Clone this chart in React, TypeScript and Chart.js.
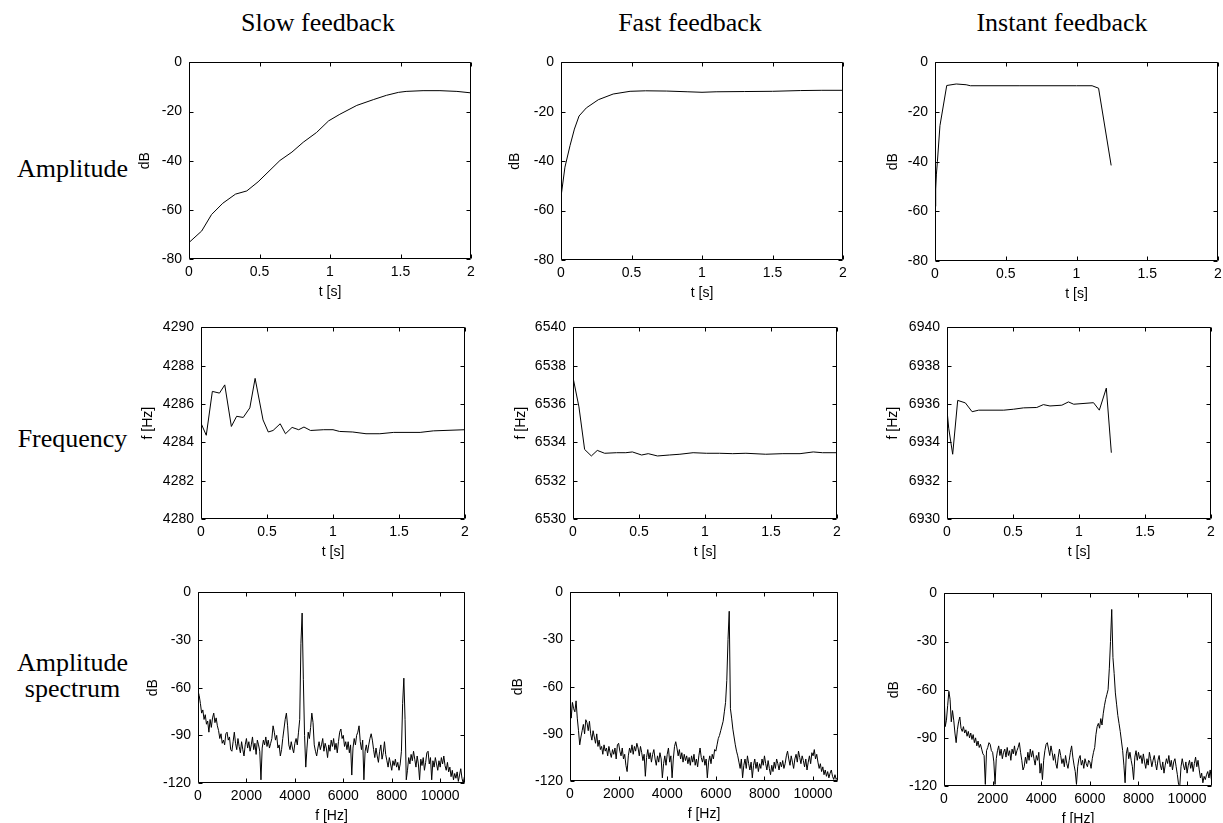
import React, { useEffect, useRef } from 'react';
import { Chart, registerables } from 'chart.js';

Chart.register(...registerables);

// ---------- text ----------
const COLUMN_TITLES = ['Slow feedback', 'Fast feedback', 'Instant feedback'];
const ROW_LABELS = [['Amplitude'], ['Frequency'], ['Amplitude', 'spectrum']];

// ---------- row 1: amplitude envelope (dB) vs time (s) ----------
const AMP_SLOW_T = [0, 0.09, 0.16, 0.24, 0.33, 0.41, 0.49, 0.645, 0.73, 0.81, 0.905, 0.99, 1.07, 1.19, 1.31, 1.4, 1.485, 1.54, 1.66, 1.78, 1.9, 2.0];
const AMP_SLOW_DB = [-73.3, -68.6, -61.9, -57.3, -53.6, -52.3, -48.6, -39.9, -36.5, -32.5, -28.5, -23.8, -21.1, -17.5, -15.1, -13.4, -12.2, -11.8, -11.5, -11.5, -11.8, -12.4];

const AMP_FAST_T = [0, 0.028, 0.064, 0.095, 0.128, 0.18, 0.265, 0.37, 0.49, 0.6, 0.75, 0.9, 1.0, 1.1, 1.3, 1.5, 1.7, 1.85, 2.0];
const AMP_FAST_DB = [-54.4, -42.4, -33.7, -27, -21.7, -18.4, -15.1, -12.8, -11.7, -11.5, -11.6, -11.9, -12.1, -11.9, -11.8, -11.7, -11.4, -11.3, -11.3];

const AMP_INST_T = [0, 0.005, 0.01, 0.017, 0.035, 0.083, 0.15, 0.22, 0.25, 0.6, 1.0, 1.11, 1.156, 1.245];
const AMP_INST_DB = [-58, -51, -45, -40, -25.5, -9.3, -8.7, -9.0, -9.4, -9.4, -9.4, -9.4, -10.4, -41.5];

// ---------- row 2: instantaneous frequency (Hz) vs time (s) ----------
const FREQ_SLOW_T = [0, 0.04, 0.086, 0.14, 0.18, 0.23, 0.27, 0.32, 0.37, 0.41, 0.47, 0.51, 0.546, 0.6, 0.64, 0.69, 0.74, 0.78, 0.83, 0.93, 1.0, 1.05, 1.15, 1.25, 1.355, 1.46, 1.66, 1.76, 2.0];
const FREQ_SLOW_HZ = [4285.0, 4284.37, 4286.66, 4286.57, 4287.0, 4284.83, 4285.36, 4285.3, 4285.8, 4287.34, 4285.17, 4284.54, 4284.62, 4284.97, 4284.45, 4284.78, 4284.66, 4284.8, 4284.62, 4284.66, 4284.66, 4284.57, 4284.54, 4284.45, 4284.45, 4284.52, 4284.52, 4284.6, 4284.66];

const FREQ_FAST_T = [0, 0.045, 0.088, 0.139, 0.184, 0.24, 0.33, 0.4, 0.45, 0.52, 0.57, 0.64, 0.73, 0.81, 0.91, 1.01, 1.11, 1.21, 1.31, 1.46, 1.59, 1.72, 1.82, 1.89, 2.0];
const FREQ_FAST_HZ = [6537.39, 6535.85, 6533.63, 6533.29, 6533.58, 6533.43, 6533.46, 6533.46, 6533.5, 6533.34, 6533.41, 6533.29, 6533.34, 6533.38, 6533.46, 6533.43, 6533.43, 6533.41, 6533.43, 6533.38, 6533.41, 6533.41, 6533.5, 6533.46, 6533.46];

const FREQ_INST_T = [0, 0.013, 0.043, 0.081, 0.139, 0.19, 0.24, 0.43, 0.505, 0.58, 0.68, 0.73, 0.78, 0.87, 0.92, 0.96, 1.11, 1.154, 1.207, 1.245];
const FREQ_INST_HZ = [6935.68, 6934.74, 6933.38, 6936.19, 6936.06, 6935.6, 6935.68, 6935.68, 6935.73, 6935.8, 6935.82, 6935.97, 6935.9, 6935.94, 6936.11, 6935.99, 6936.07, 6935.68, 6936.83, 6933.46];

// ---------- row 3: amplitude spectra (dB), one value per 50 Hz bin, 0..11000 Hz ----------
const SPEC_BIN_HZ = 50;
const SPEC_SLOW_DB = [
  -62, -65, -70, -76, -74, -80, -77, -83, -81, -88,
  -80, -85, -79, -76, -82, -79, -84, -87, -92, -89,
  -95, -93, -96, -89, -88, -93, -91, -99, -100, -94,
  -88, -95, -99, -92, -97, -101, -94, -99, -103, -96,
  -92, -98, -94, -100, -96, -91, -99, -95, -102, -93,
  -96, -100, -118, -98, -93, -96, -91, -97, -93, -98,
  -95, -92, -84, -88, -93, -90, -98, -96, -103, -99,
  -92, -86, -80, -76, -84, -96, -99, -94, -98, -101,
  -95, -92, -96, -88, -80, -32, -13, -55, -90, -110,
  -98, -88, -92, -85, -76, -82, -96, -100, -103, -98,
  -94, -99, -96, -92, -100, -95, -98, -104, -96, -100,
  -93, -97, -92, -99, -95, -101, -94, -88, -86, -92,
  -90, -97, -94, -99, -94, -101, -96, -115, -98, -92,
  -96, -90, -88, -84, -94, -99, -93, -118, -100, -96,
  -101, -96, -92, -89, -93, -99, -104, -98, -103, -107,
  -100, -96, -105, -101, -94, -102, -106, -110, -104, -108,
  -112, -106, -109, -105, -110, -107, -112, -108, -100, -70,
  -54, -80, -118, -112, -104, -108, -102, -106, -100, -105,
  -110, -103, -108, -118, -105, -109, -104, -112, -107, -101,
  -100, -108, -104, -118, -106, -110, -104, -108, -112, -106,
  -110, -104, -108, -103, -109, -112, -107, -113, -110, -116,
  -112, -118, -114, -117, -113, -119, -115, -111, -117, -120,
  -116,
];
const SPEC_FAST_DB = [
  -62, -80, -70, -74, -76, -69, -80, -88, -97, -92,
  -88, -84, -90, -81, -83, -88, -82, -90, -94, -88,
  -92, -96, -90, -98, -94, -100, -98, -103, -97, -101,
  -99, -104, -98, -102, -105, -100, -103, -99, -106, -97,
  -96, -101, -104, -99, -106, -103, -110, -114, -104, -99,
  -102, -97, -103, -98, -101, -96, -99, -104, -98, -102,
  -107, -103, -117, -105, -100, -106, -102, -108, -103, -100,
  -106, -110, -104, -108, -102, -106, -118, -109, -104, -110,
  -103, -99, -108, -104, -118, -106, -98, -95, -99, -104,
  -100, -106, -102, -108, -103, -107, -104, -109, -105, -110,
  -104, -108, -103, -110, -106, -111, -104, -99, -105, -108,
  -104, -110, -106, -118, -108, -104, -109, -103, -106, -100,
  -101, -97, -93, -91, -88, -85, -82, -76, -70, -56,
  -30, -12, -74, -80, -87, -92, -97, -101, -104, -108,
  -112, -106, -118, -110, -106, -112, -104, -109, -113, -108,
  -118, -110, -106, -112, -108, -114, -109, -112, -106, -110,
  -104, -109, -113, -107, -112, -116, -110, -114, -108, -112,
  -106, -109, -113, -108, -111, -107, -112, -109, -104, -101,
  -106, -110, -104, -108, -112, -106, -103, -108, -101, -105,
  -109, -104, -107, -111, -106, -113, -108, -104, -109, -102,
  -104, -100, -106, -103, -108, -112, -109, -114, -111, -116,
  -113, -117, -114, -118, -115, -113, -117, -119, -116, -119,
  -118,
];
const SPEC_INST_DB = [
  -60, -83, -79, -70, -61, -66, -80, -73, -79, -87,
  -93, -85, -80, -77, -84, -86, -83, -87, -85, -89,
  -86, -90, -87, -91, -88, -93, -90, -95, -92, -96,
  -94, -97, -100, -101, -119, -98, -96, -93, -94, -98,
  -99, -105, -119, -103, -98, -95, -101, -97, -103, -99,
  -97, -102, -96, -101, -98, -104, -97, -100, -95, -101,
  -98, -96, -93, -99, -104, -110, -108, -102, -106, -99,
  -104, -97, -102, -98, -103, -107, -101, -104, -99, -112,
  -106, -116, -104, -98, -94, -93, -97, -101, -95, -99,
  -104, -100, -106, -109, -102, -97, -101, -106, -103, -108,
  -101, -106, -109, -104, -99, -95, -102, -107, -111, -119,
  -108, -103, -101, -107, -104, -109, -103, -106, -108, -104,
  -105, -109, -103, -99, -96, -88, -83, -81, -84, -78,
  -82, -75, -70, -66, -63, -60, -47, -30, -10, -40,
  -50, -62, -69, -76, -81, -86, -92, -98, -107, -118,
  -100, -96, -103, -99, -104, -108, -116, -102, -98, -104,
  -99, -103, -101, -106, -100, -105, -109, -103, -107, -99,
  -103, -108, -104, -101, -106, -110, -104, -101, -107, -110,
  -105, -112, -107, -103, -106, -101, -108, -104, -110, -105,
  -103, -108, -113, -119, -120, -108, -103, -107, -110, -105,
  -112, -107, -104, -109, -105, -111, -106, -102, -108, -104,
  -110, -115, -112, -118, -114, -116, -113, -111, -115, -110,
  -116,
];

// ---------- tick values ----------
const TIME_TICKS = [0, 0.5, 1, 1.5, 2];
const AMP_TICKS = [-80, -60, -40, -20, 0];
const FREQ_SLOW_TICKS = [4280, 4282, 4284, 4286, 4288, 4290];
const FREQ_FAST_TICKS = [6530, 6532, 6534, 6536, 6538, 6540];
const FREQ_INST_TICKS = [6930, 6932, 6934, 6936, 6938, 6940];
const SPEC_F_TICKS = [0, 2000, 4000, 6000, 8000, 10000];
const SPEC_DB_TICKS = [-120, -90, -60, -30, 0];

// ---------- axes ----------
interface AxisDef { min: number; max: number; ticks: number[]; title: string }
const TIME_AXIS: AxisDef = { min: 0, max: 2, ticks: TIME_TICKS, title: 't [s]' };
const AMP_AXIS: AxisDef = { min: -80, max: 0, ticks: AMP_TICKS, title: 'dB' };
const FREQ_SLOW_AXIS: AxisDef = { min: 4280, max: 4290, ticks: FREQ_SLOW_TICKS, title: 'f [Hz]' };
const FREQ_FAST_AXIS: AxisDef = { min: 6530, max: 6540, ticks: FREQ_FAST_TICKS, title: 'f [Hz]' };
const FREQ_INST_AXIS: AxisDef = { min: 6930, max: 6940, ticks: FREQ_INST_TICKS, title: 'f [Hz]' };
const SPEC_X_AXIS: AxisDef = { min: 0, max: 11025, ticks: SPEC_F_TICKS, title: 'f [Hz]' };
const SPEC_Y_AXIS: AxisDef = { min: -120, max: 0, ticks: SPEC_DB_TICKS, title: 'dB' };

type Pt = { x: number; y: number };
const zip = (xs: number[], ys: number[]): Pt[] => xs.map((x, i) => ({ x, y: ys[i] }));
const bins = (ys: number[]): Pt[] => ys.map((y, i) => ({ x: i * SPEC_BIN_HZ, y }));

interface Rect { x0: number; y0: number; x1: number; y1: number; td: number }
interface PanelDef { points: Pt[]; xAxis: AxisDef; yAxis: AxisDef; rect: Rect }

const PANELS: PanelDef[] = [
  { points: zip(AMP_SLOW_T, AMP_SLOW_DB), xAxis: TIME_AXIS, yAxis: AMP_AXIS, rect: { x0: 189, y0: 59, x1: 471, y1: 259, td: 44 } },
  { points: zip(AMP_FAST_T, AMP_FAST_DB), xAxis: TIME_AXIS, yAxis: AMP_AXIS, rect: { x0: 561, y0: 59, x1: 843, y1: 260, td: 46 } },
  { points: zip(AMP_INST_T, AMP_INST_DB), xAxis: TIME_AXIS, yAxis: AMP_AXIS, rect: { x0: 935, y0: 59, x1: 1218, y1: 261, td: 42 } },
  { points: zip(FREQ_SLOW_T, FREQ_SLOW_HZ), xAxis: TIME_AXIS, yAxis: FREQ_SLOW_AXIS, rect: { x0: 201, y0: 324, x1: 465, y1: 519, td: 53 } },
  { points: zip(FREQ_FAST_T, FREQ_FAST_HZ), xAxis: TIME_AXIS, yAxis: FREQ_FAST_AXIS, rect: { x0: 573, y0: 324, x1: 837, y1: 519, td: 52 } },
  { points: zip(FREQ_INST_T, FREQ_INST_HZ), xAxis: TIME_AXIS, yAxis: FREQ_INST_AXIS, rect: { x0: 947, y0: 324, x1: 1211, y1: 519, td: 54 } },
  { points: bins(SPEC_SLOW_DB), xAxis: SPEC_X_AXIS, yAxis: SPEC_Y_AXIS, rect: { x0: 198, y0: 589, x1: 465, y1: 783, td: 45 } },
  { points: bins(SPEC_FAST_DB), xAxis: SPEC_X_AXIS, yAxis: SPEC_Y_AXIS, rect: { x0: 570, y0: 589, x1: 838, y1: 781, td: 52 } },
  { points: bins(SPEC_INST_DB), xAxis: SPEC_X_AXIS, yAxis: SPEC_Y_AXIS, rect: { x0: 944, y0: 590, x1: 1212, y1: 786, td: 50 } },
];

const TITLE_CENTERS = [318, 690, 1062];
const ROW_LABEL_TOPS = [[156], [426], [650, 676]];

const SANS = "'Liberation Sans', Arial, Helvetica, sans-serif";
const SERIF = "'Liberation Serif', 'Times New Roman', Times, serif";
const TICK_FONT = { family: SANS, size: 14 };

const fmt = (v: number) => String(Math.round(v * 1000) / 1000);

const framePlugin = {
  id: 'matlabFrame',
  afterDraw(chart: any) {
    const { ctx, chartArea: a, scales } = chart;
    const L = Math.round(a.left) + 0.5;
    const R = Math.round(a.right) - 0.5;
    const T = Math.round(a.top) + 0.5;
    const B = Math.round(a.bottom) - 0.5;
    const tick = 4;
    ctx.save();
    ctx.strokeStyle = '#000';
    ctx.lineWidth = 1;
    ctx.beginPath();
    ctx.rect(L, T, R - L, B - T);
    for (const t of scales.x.ticks) {
      const px = Math.round(scales.x.getPixelForValue(t.value)) + 0.5;
      ctx.moveTo(px, B); ctx.lineTo(px, B - tick);
      ctx.moveTo(px, T); ctx.lineTo(px, T + tick);
    }
    for (const t of scales.y.ticks) {
      const py = Math.round(scales.y.getPixelForValue(t.value)) + 0.5;
      ctx.moveTo(L, py); ctx.lineTo(L + tick, py);
      ctx.moveTo(R, py); ctx.lineTo(R - tick, py);
    }
    ctx.stroke();
    ctx.restore();
  },
};

function axisOptions(a: AxisDef, dir: 'x' | 'y', size: number): any {
  return {
    type: 'linear',
    position: dir === 'x' ? 'bottom' : 'left',
    min: a.min,
    max: a.max,
    grid: { display: false, drawTicks: false },
    border: { display: false },
    ticks: {
      autoSkip: false,
      maxRotation: 0,
      minRotation: 0,
      padding: dir === 'x' ? 5 : 7,
      color: '#000',
      font: TICK_FONT,
      callback: (v: any) => fmt(Number(v)),
    },
    afterBuildTicks: (s: any) => {
      s.ticks = a.ticks.map((value) => ({ value }));
    },
    title: { display: true, text: a.title, color: '#000', font: TICK_FONT, padding: { top: 4, bottom: 0 } },
    afterFit: (s: any) => {
      if (dir === 'x') s.height = size; else s.width = size;
    },
  };
}

function Panel({ def }: { def: PanelDef }) {
  const ref = useRef<HTMLCanvasElement>(null);
  const { x0, y0, x1, y1, td } = def.rect;
  const yW = Math.round(td + 12.4);
  const padTop = 12;
  const padRight = 25;
  const xH = 42;
  const w = yW + (x1 - x0) + padRight;
  const h = padTop + (y1 - y0) + xH;

  useEffect(() => {
    if (!ref.current) return;
    const chart = new Chart(ref.current, {
      type: 'line',
      data: {
        datasets: [
          { data: def.points as any, borderColor: '#000', borderWidth: 1, pointRadius: 0, tension: 0, fill: false },
        ],
      },
      options: {
        animation: false,
        responsive: false,
        maintainAspectRatio: false,
        devicePixelRatio: 1,
        events: [],
        layout: { padding: { left: 0, top: padTop, right: padRight, bottom: 0 } },
        plugins: { legend: { display: false }, tooltip: { enabled: false } },
        scales: {
          x: axisOptions(def.xAxis, 'x', xH),
          y: axisOptions(def.yAxis, 'y', yW),
        },
      } as any,
      plugins: [framePlugin],
    });
    return () => chart.destroy();
  }, []);

  return (
    <canvas
      ref={ref}
      width={w}
      height={h}
      style={{ position: 'absolute', left: x0 - yW, top: y0 - padTop, width: w, height: h }}
    />
  );
}

export default function App() {
  const textStyle: React.CSSProperties = {
    position: 'absolute',
    fontFamily: SERIF,
    fontSize: 26,
    lineHeight: '26px',
    color: '#000',
    whiteSpace: 'nowrap',
  };
  return (
    <div
      style={{
        position: 'absolute',
        left: 0,
        top: 0,
        width: 1223,
        height: 823,
        overflow: 'hidden',
        background: '#fff',
      }}
    >
      {COLUMN_TITLES.map((t, i) => (
        <div key={t} style={{ ...textStyle, left: TITLE_CENTERS[i] - 150, width: 300, top: 10, textAlign: 'center' }}>
          {t}
        </div>
      ))}
      {ROW_LABELS.map((lines, r) =>
        lines.map((line, j) => (
          <div key={r + '-' + j} style={{ ...textStyle, left: 14, width: 117, top: ROW_LABEL_TOPS[r][j], textAlign: 'center' }}>
            {line}
          </div>
        ))
      )}
      {PANELS.map((p, i) => (
        <Panel key={i} def={p} />
      ))}
    </div>
  );
}
